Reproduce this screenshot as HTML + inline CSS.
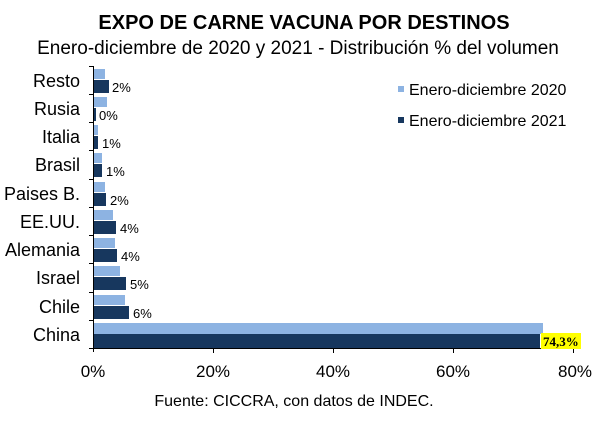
<!DOCTYPE html><html><head><style>body{margin:0;background:#fff}</style></head><body>
<svg width="608" height="418" xmlns="http://www.w3.org/2000/svg" font-family="Liberation Sans, Arial, sans-serif">
<rect width="608" height="418" fill="#fff"/>
<text x="304" y="29" text-anchor="middle" font-size="20" font-weight="bold">EXPO DE CARNE VACUNA POR DESTINOS</text>
<text x="298" y="54" text-anchor="middle" font-size="19">Enero-diciembre de 2020 y 2021 - Distribución % del volumen</text>
<g stroke="#000" stroke-width="1">
<line x1="93.5" y1="66" x2="93.5" y2="352"/>
<line x1="89" y1="66.5" x2="93" y2="66.5"/><line x1="89" y1="94.5" x2="93" y2="94.5"/><line x1="89" y1="122.5" x2="93" y2="122.5"/><line x1="89" y1="150.5" x2="93" y2="150.5"/><line x1="89" y1="179.5" x2="93" y2="179.5"/><line x1="89" y1="207.5" x2="93" y2="207.5"/><line x1="89" y1="235.5" x2="93" y2="235.5"/><line x1="89" y1="263.5" x2="93" y2="263.5"/><line x1="89" y1="292.5" x2="93" y2="292.5"/><line x1="89" y1="320.5" x2="93" y2="320.5"/><line x1="89" y1="348.5" x2="93" y2="348.5"/>
<line x1="93" y1="348.5" x2="575" y2="348.5"/>
<line x1="213.5" y1="348" x2="213.5" y2="353"/><line x1="333.5" y1="348" x2="333.5" y2="353"/><line x1="453.5" y1="348" x2="453.5" y2="353"/><line x1="573.5" y1="348" x2="573.5" y2="353"/>
</g>
<g fill="#8db3e2">
<rect x="94" y="69" width="11" height="10"/><rect x="94" y="97" width="13" height="10"/><rect x="94" y="125" width="4" height="10"/><rect x="94" y="153" width="8" height="10"/><rect x="94" y="182" width="11" height="10"/><rect x="94" y="210" width="19" height="10"/><rect x="94" y="238" width="21" height="10"/><rect x="94" y="266" width="26" height="10"/><rect x="94" y="295" width="31" height="10"/><rect x="94" y="323" width="449" height="11"/>
</g>
<g fill="#17375e">
<rect x="94" y="80" width="15" height="13"/><rect x="94" y="108" width="2" height="13"/><rect x="94" y="136" width="4" height="13"/><rect x="94" y="164" width="8" height="13"/><rect x="94" y="193" width="12" height="13"/><rect x="94" y="221" width="22" height="13"/><rect x="94" y="249" width="23" height="13"/><rect x="94" y="277" width="32" height="13"/><rect x="94" y="306" width="35" height="13"/><rect x="94" y="334" width="446" height="14"/>
</g>
<g font-size="13" fill="#000">
<text x="112" y="92">2%</text><text x="99" y="120">0%</text><text x="102" y="148">1%</text><text x="106" y="176">1%</text><text x="110" y="205">2%</text><text x="120" y="233">4%</text><text x="121" y="261">4%</text><text x="130" y="289">5%</text><text x="133" y="318">6%</text>
</g>
<rect x="541" y="333" width="40" height="16" fill="#ffff00"/>
<text x="543" y="346" font-family="Liberation Serif, serif" font-size="13" font-weight="bold">74,3%</text>
<g font-size="18" text-anchor="end">
<text x="80" y="87">Resto</text><text x="80" y="115">Rusia</text><text x="80" y="143">Italia</text><text x="80" y="171">Brasil</text><text x="80" y="200">Paises B.</text><text x="80" y="228">EE.UU.</text><text x="80" y="256">Alemania</text><text x="80" y="284">Israel</text><text x="80" y="313">Chile</text><text x="80" y="341">China</text>
</g>
<g font-size="17" text-anchor="middle">
<text x="93" y="377">0%</text><text x="213" y="377">20%</text><text x="333" y="377">40%</text><text x="453" y="377">60%</text><text x="575" y="377">80%</text>
</g>
<rect x="398" y="86" width="6" height="6" fill="#8db3e2"/>
<text x="409" y="95" font-size="16">Enero-diciembre 2020</text>
<rect x="398" y="117" width="6" height="6" fill="#17375e"/>
<text x="409" y="126" font-size="16">Enero-diciembre 2021</text>
<text x="294" y="406" text-anchor="middle" font-size="16">Fuente: CICCRA, con datos de INDEC.</text>
</svg></body></html>
